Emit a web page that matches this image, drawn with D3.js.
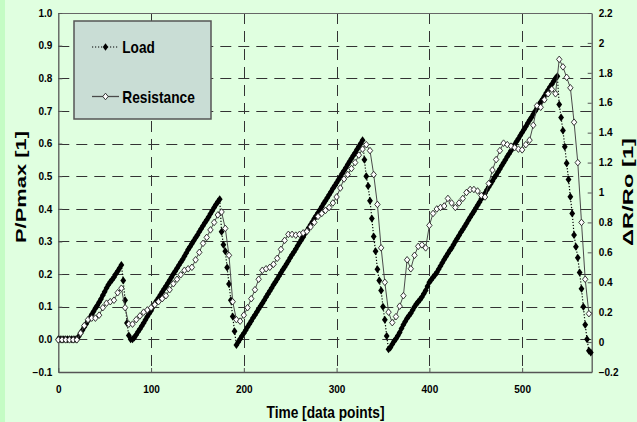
<!DOCTYPE html>
<html><head><meta charset="utf-8">
<script src="https://cdn.jsdelivr.net/npm/d3@7"></script>
<style>
html,body{margin:0;padding:0;background:#e0ffe0;}
svg{display:block;}
text{font-family:"Liberation Sans",Arial,sans-serif;font-weight:bold;fill:#000;}
</style></head><body>
<svg id="chart" width="637" height="422"></svg>
<script>
// ---- data ----
// load: one value every 2 data points, starting at 0
const loadStep = 2;
const loadValues = [
  0, 0, 0, 0, 0, 0, 0, 0, 0, 0,
  0, 0.009, 0.019, 0.028, 0.038, 0.047, 0.057, 0.066, 0.076, 0.085,
  0.095, 0.104, 0.114, 0.124, 0.135, 0.146, 0.157, 0.167, 0.176, 0.183,
  0.19, 0.2, 0.209, 0.218, 0.228, 0.18, 0.12, 0.05, 0.012, 0,
  0, 0.006, 0.014, 0.023, 0.032, 0.041, 0.05, 0.06, 0.07, 0.079,
  0.088, 0.099, 0.11, 0.118, 0.127, 0.136, 0.145, 0.154, 0.163, 0.172,
  0.181, 0.19, 0.2, 0.209, 0.218, 0.227, 0.236, 0.245, 0.255, 0.265,
  0.275, 0.284, 0.293, 0.302, 0.311, 0.32, 0.33, 0.339, 0.348, 0.357,
  0.366, 0.375, 0.385, 0.394, 0.404, 0.413, 0.422, 0.429, 0.33, 0.29,
  0.27, 0.22, 0.17, 0.12, 0.07, 0.025, -0.017, -0.008, 0.001, 0.01,
  0.019, 0.028, 0.038, 0.047, 0.056, 0.066, 0.075, 0.084, 0.093, 0.102,
  0.111, 0.12, 0.13, 0.139, 0.148, 0.157, 0.167, 0.176, 0.185, 0.194,
  0.204, 0.213, 0.222, 0.231, 0.24, 0.25, 0.259, 0.268, 0.277, 0.287,
  0.296, 0.305, 0.314, 0.324, 0.333, 0.342, 0.351, 0.36, 0.37, 0.379,
  0.388, 0.397, 0.406, 0.416, 0.425, 0.434, 0.443, 0.452, 0.462, 0.471,
  0.48, 0.489, 0.498, 0.508, 0.517, 0.526, 0.536, 0.545, 0.554, 0.563,
  0.572, 0.582, 0.591, 0.6, 0.61, 0.55, 0.5, 0.47, 0.425, 0.37,
  0.315, 0.27, 0.215, 0.18, 0.15, 0.1, 0.06, 0.01, -0.03, -0.025,
  -0.015, -0.006, 0.002, 0.011, 0.021, 0.033, 0.045, 0.055, 0.065, 0.072,
  0.08, 0.09, 0.1, 0.108, 0.115, 0.122, 0.13, 0.14, 0.15, 0.163,
  0.175, 0.183, 0.19, 0.197, 0.205, 0.215, 0.225, 0.235, 0.245, 0.254,
  0.263, 0.272, 0.28, 0.29, 0.3, 0.309, 0.318, 0.328, 0.337, 0.346,
  0.355, 0.365, 0.374, 0.383, 0.392, 0.402, 0.411, 0.42, 0.43, 0.439,
  0.448, 0.458, 0.467, 0.476, 0.485, 0.495, 0.504, 0.513, 0.522, 0.532,
  0.541, 0.55, 0.56, 0.569, 0.578, 0.588, 0.597, 0.606, 0.615, 0.625,
  0.634, 0.643, 0.652, 0.662, 0.671, 0.68, 0.69, 0.699, 0.708, 0.718,
  0.727, 0.736, 0.745, 0.755, 0.764, 0.773, 0.782, 0.791, 0.8, 0.806,
  0.72, 0.68, 0.64, 0.59, 0.54, 0.49, 0.437, 0.386, 0.32, 0.284,
  0.25, 0.205, 0.155, 0.1, 0.045, 0, -0.035, -0.04
];
// resistance: one value every 4 data points, starting at 0
const resistanceStep = 4;
const resistanceValues = [
  0.015, 0.015, 0.015, 0.015, 0.015, 0.015, 0.06, 0.11, 0.15, 0.16,
  0.16, 0.18, 0.23, 0.26, 0.27, 0.28, 0.33, 0.36, 0.23, 0.12,
  0.12, 0.15, 0.175, 0.2, 0.215, 0.23, 0.25, 0.27, 0.29, 0.31,
  0.35, 0.39, 0.42, 0.45, 0.48, 0.49, 0.5, 0.55, 0.6, 0.66,
  0.7, 0.75, 0.8, 0.85, 0.87, 0.76, 0.58, 0.27, 0.15, 0.14,
  0.18, 0.23, 0.29, 0.35, 0.42, 0.48, 0.49, 0.5, 0.52, 0.56,
  0.62, 0.68, 0.72, 0.72, 0.715, 0.72, 0.73, 0.74, 0.77, 0.8,
  0.84, 0.86, 0.88, 0.9, 0.93, 0.97, 1.03, 1.09, 1.12, 1.16,
  1.2, 1.25, 1.29, 1.32, 1.28, 1.12, 0.92, 0.63, 0.4, 0.2,
  0.13, 0.17, 0.24, 0.31, 0.55, 0.49, 0.58, 0.64, 0.65, 0.63,
  0.78, 0.86, 0.89, 0.9, 0.91, 0.96, 0.93, 0.9, 0.93, 0.96,
  1.0, 1.02, 1.02, 1.01, 0.98, 0.97, 1.06, 1.15, 1.22, 1.28,
  1.33, 1.32, 1.31, 1.3, 1.29, 1.285, 1.32, 1.35, 1.45, 1.58,
  1.57, 1.62, 1.66, 1.69, 1.66, 1.89, 1.84, 1.77, 1.7, 1.47,
  1.2, 0.8, 0.42, 0.19
];
const xTicks = [0, 100, 200, 300, 400, 500];
const leftTicks = [-0.1, 0.0, 0.1, 0.2, 0.3, 0.4, 0.5, 0.6, 0.7, 0.8, 0.9, 1.0];
const rightTicks = [-0.2, 0, 0.2, 0.4, 0.6, 0.8, 1, 1.2, 1.4, 1.6, 1.8, 2, 2.2];
const seriesNames = ["Load", "Resistance"];
const xTitle = "Time [data points]";
const leftTitle = "P/Pmax [1]";
const rightTitle = "\u0394R/Ro [1]";

// ---- layout ----
const W = 637, H = 422;
const plot = {left: 58.3, right: 591.7, top: 13, bottom: 372};
const svg = d3.select("#chart");

svg.append("rect").attr("width", W).attr("height", H).attr("fill", "#e0ffe0");
svg.append("rect").attr("width", 5).attr("height", H).attr("fill", "#c4fcc4");

const x = d3.scaleLinear().domain([0, 575]).range([plot.left, plot.right]);
const yL = d3.scaleLinear().domain([-0.1, 1.0]).range([plot.bottom, plot.top]);
const yR = d3.scaleLinear().domain([-0.2, 2.2]).range([plot.bottom, plot.top]);

const loadData = loadValues.map((v, i) => ({t: i * loadStep, v}));
const resData = resistanceValues.map((v, i) => ({t: i * resistanceStep, v}));

// grid
const grid = svg.append("g").attr("stroke", "#333").attr("stroke-width", 1)
  .attr("stroke-dasharray", "11,7").attr("fill", "none");
grid.selectAll("line.h").data(leftTicks.filter(d => d > -0.05 && d < 0.95)).join("line")
  .attr("x1", plot.left).attr("x2", plot.right)
  .attr("y1", d => Math.round(yL(d)) + 0.5).attr("y2", d => Math.round(yL(d)) + 0.5);
grid.selectAll("line.v").data(xTicks.filter(d => d > 0)).join("line")
  .attr("y1", plot.top).attr("y2", plot.bottom)
  .attr("x1", d => Math.round(x(d)) + 0.5).attr("x2", d => Math.round(x(d)) + 0.5);

// top border
svg.append("line").attr("x1", plot.left).attr("x2", plot.right)
  .attr("y1", plot.top + 0.5).attr("y2", plot.top + 0.5).attr("stroke", "#666");

// axes
const axFont = g => g.selectAll("text").style("font-size", "10px").style("font-weight", "bold")
  .attr("fill", "#000");
const axL = svg.append("g").attr("transform", `translate(${plot.left},0)`)
  .call(d3.axisLeft(yL).tickValues(leftTicks).tickFormat(d3.format(".1f")).tickSizeInner(-4).tickSizeOuter(0).tickPadding(6));
const axR = svg.append("g").attr("transform", `translate(${plot.right},0)`)
  .call(d3.axisRight(yR).tickValues(rightTicks).tickFormat(d => d3.format("")(+d.toFixed(1))).tickSizeInner(-4).tickSizeOuter(0).tickPadding(7));
const axB = svg.append("g").attr("transform", `translate(0,${plot.bottom})`)
  .call(d3.axisBottom(x).tickValues(xTicks).tickFormat(d3.format("d")).tickSizeInner(-4).tickSizeOuter(0).tickPadding(14));
[axL, axR, axB].forEach(a => {
  a.call(axFont);
  a.select(".domain").attr("stroke", "#555").attr("stroke-width", 1.3);
  a.selectAll(".tick line").attr("stroke", "#555");
  a.attr("font-family", null);
});

// diamond path
const diamond = (w, h) => `M0,${-h}L${w},0L0,${h}L${-w},0Z`;

// load series (left axis)
svg.append("path").datum(loadData)
  .attr("d", d3.line().x(d => x(d.t)).y(d => yL(d.v)))
  .attr("fill", "none").attr("stroke", "#000").attr("stroke-width", 1.2).attr("stroke-dasharray", "1.2,1.8");
svg.append("g").selectAll("path").data(loadData).join("path")
  .attr("transform", d => `translate(${x(d.t)},${yL(d.v)})`)
  .attr("d", diamond(2.9, 4)).attr("fill", "#000");

// resistance series (right axis)
svg.append("path").datum(resData)
  .attr("d", d3.line().x(d => x(d.t)).y(d => yR(d.v)))
  .attr("fill", "none").attr("stroke", "#4a4a4a").attr("stroke-width", 1);
svg.append("g").selectAll("path").data(resData).join("path")
  .attr("transform", d => `translate(${x(d.t)},${yR(d.v)})`)
  .attr("d", diamond(2.7, 3.3)).attr("fill", "#fff").attr("stroke", "#222").attr("stroke-width", 0.9);

// legend
const leg = svg.append("g");
leg.append("rect").attr("x", 74).attr("y", 21).attr("width", 137).attr("height", 98)
  .attr("fill", "#c9ddd5").attr("stroke", "#555").attr("stroke-width", 1.5);
const legRows = [
  {name: seriesNames[0], y: 47, dash: "1.2,1.8", stroke: "#000", fill: "#000", mk: diamond(2.7, 3.7), len: 32.5},
  {name: seriesNames[1], y: 96.5, dash: null, stroke: "#4a4a4a", fill: "#fff", mk: diamond(2.7, 3.3), len: 72.5}
];
legRows.forEach(r => {
  leg.append("line").attr("x1", 92).attr("x2", 119).attr("y1", r.y).attr("y2", r.y)
    .attr("stroke", r.stroke).attr("stroke-width", r.dash ? 1.2 : 1.3).attr("stroke-dasharray", r.dash);
  leg.append("path").attr("transform", `translate(105.5,${r.y})`).attr("d", r.mk)
    .attr("fill", r.fill).attr("stroke", r.fill === "#fff" ? "#222" : null).attr("stroke-width", 0.9);
  leg.append("text").attr("x", 122.3).attr("y", r.y + 6.3).style("font-size", "17px")
    .attr("textLength", r.len).attr("lengthAdjust", "spacingAndGlyphs")
    .text(r.name);
});

// titles
svg.append("text").attr("x", 325.5).attr("y", 418.3).attr("text-anchor", "middle")
  .style("font-size", "16px").attr("textLength", 118).attr("lengthAdjust", "spacingAndGlyphs").text(xTitle);
svg.append("text").attr("transform", "translate(26,187) rotate(-90)").attr("text-anchor", "middle")
  .style("font-size", "14px").attr("textLength", 112).attr("lengthAdjust", "spacingAndGlyphs").text(leftTitle);
svg.append("text").attr("transform", "translate(633,192) rotate(-90)").attr("text-anchor", "middle")
  .style("font-size", "14px").attr("textLength", 108).attr("lengthAdjust", "spacingAndGlyphs").text(rightTitle);
</script>
</body></html>
